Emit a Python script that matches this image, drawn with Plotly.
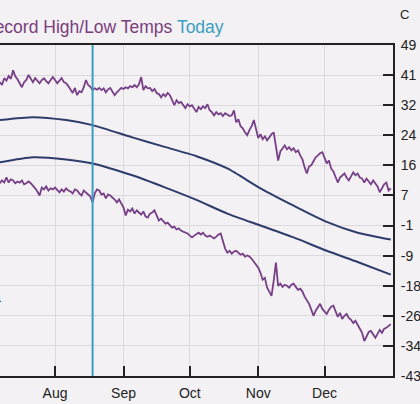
import plotly.graph_objects as go

# ---------------- data (degrees C, daily values; first Jul value is Jul 7) ----------------
YEAR = 2023
month_start_day = {7: 7, 8: 1, 9: 1, 10: 1, 11: 1, 12: 1}

rec_high_jul = [38.6, 37.8, 39.7, 39.0, 40.3, 39.5, 41.9, 40.2, 39.4, 38.3, 37.2, 38.6, 39.2, 40.6, 39.4,
                38.6, 39.7, 39.0, 38.3, 39.2, 39.7, 38.9, 38.3, 39.2, 40.0]
rec_high_aug = [39.2, 38.3, 39.0, 39.7, 38.6, 38.3, 37.5, 36.7, 35.6, 37.0, 35.0, 36.1, 35.8, 37.2, 39.2,
                37.8, 37.3, 36.4, 36.9, 36.5, 37.0, 36.4, 36.9, 35.8, 36.6, 37.0, 36.1, 35.0, 35.8, 36.4, 37.0]
rec_high_sep = [36.7, 37.2, 36.9, 37.5, 37.2, 37.8, 37.2, 38.0, 40.0, 36.4, 37.5, 36.9, 37.0, 36.1, 36.7,
                35.6, 35.3, 34.4, 35.3, 34.7, 35.6, 35.0, 33.6, 32.2, 33.6, 32.8, 33.1, 32.2, 31.4, 32.5]
rec_high_oct = [31.9, 32.2, 31.1, 30.3, 31.7, 31.1, 31.9, 31.4, 32.5, 30.8, 30.3, 29.4, 30.3, 29.7, 30.0,
                29.2, 30.0, 29.7, 29.2, 29.4, 30.8, 27.5, 28.3, 26.4, 25.8, 24.7, 23.9, 25.3, 26.4, 28.1, 25.8]
rec_high_nov = [23.1, 24.2, 22.8, 23.6, 22.5, 23.3, 24.2, 24.7, 20.8, 16.9, 19.4, 20.3, 21.1, 20.0, 20.6,
                19.7, 20.3, 19.2, 19.7, 18.3, 17.2, 15.0, 13.3, 15.3, 15.6, 16.7, 17.8, 18.3, 18.9, 19.2]
rec_high_dec = [17.5, 16.1, 16.9, 14.7, 13.9, 12.5, 10.8, 12.2, 12.8, 13.3, 12.2, 11.4, 12.5, 13.6, 12.8,
                13.3, 12.2, 11.9, 10.8, 11.9, 11.1, 10.3, 11.4, 10.6, 9.7, 8.1, 9.4, 10.3, 10.8, 8.6, 9.2]

rec_low_jul = [10.6, 11.4, 10.8, 12.2, 10.8, 11.7, 11.4, 10.6, 11.1, 10.8, 11.4, 10.3, 10.6, 11.1, 10.6,
               10.0, 9.2, 8.3, 7.2, 9.4, 8.9, 9.7, 8.6, 9.2, 8.9]
rec_low_aug = [9.4, 8.6, 8.1, 8.9, 8.3, 9.2, 8.6, 8.3, 7.8, 8.9, 8.6, 7.8, 7.2, 8.6, 8.1,
               7.5, 6.9, 5.3, 7.8, 8.9, 8.6, 7.5, 7.8, 6.4, 7.5, 7.2, 6.7, 6.1, 5.3, 6.1, 5.0]
rec_low_sep = [3.9, 1.7, 3.3, 2.8, 3.6, 2.2, 3.1, 2.5, 1.9, 2.8, 1.4, 1.1, 2.2, 2.5, 3.1,
               1.7, 0.3, 0.8, 0.0, -0.6, -0.3, -1.1, -1.7, -1.4, -2.2, -1.9, -2.5, -2.8, -3.1, -3.3]
rec_low_oct = [-3.9, -4.4, -3.9, -3.6, -3.1, -3.6, -3.1, -3.9, -4.2, -3.9, -4.4, -4.7, -4.2, -3.6, -3.3,
               -5.8, -7.5, -8.6, -8.1, -8.9, -8.3, -8.1, -8.6, -9.2, -8.9, -9.7, -9.4, -9.7, -10.3, -11.1, -11.7]
rec_low_nov = [-12.8, -14.2, -16.1, -15.6, -18.3, -19.4, -20.6, -16.4, -11.4, -17.8, -17.2, -18.1, -17.5, -17.8, -18.3,
               -17.5, -17.2, -18.1, -18.9, -18.6, -19.4, -20.8, -21.9, -22.8, -24.4, -26.1, -24.7, -23.9, -22.8, -24.2]
rec_low_dec = [-25.0, -25.6, -24.4, -23.6, -23.3, -24.7, -26.4, -25.3, -27.0, -26.1, -25.6, -26.7, -27.2, -28.1, -27.5,
               -28.6, -29.7, -30.8, -33.1, -31.7, -30.6, -30.3, -31.4, -32.2, -31.1, -30.0, -30.8, -29.7, -29.4, -28.9, -28.4]

normal_dates = ["2023-07-07", "2023-07-22", "2023-08-06", "2023-08-18", "2023-09-05", "2023-09-20", "2023-10-04",
                "2023-10-18", "2023-11-02", "2023-11-17", "2023-12-02", "2023-12-16", "2023-12-31"]
normal_high = [28.1, 28.9, 28.1, 26.7, 23.3, 20.6, 18.1, 14.7, 9.2, 4.4, -0.1, -3.1, -5.0]
normal_low = [16.4, 17.8, 17.2, 16.1, 12.8, 9.4, 6.0, 2.2, -1.1, -4.4, -8.1, -11.2, -14.7]

TODAY = "2023-08-18"
month_ticks = ["2023-08-01", "2023-09-01", "2023-10-01", "2023-11-01", "2023-12-01"]
month_labels = ["Aug", "Sep", "Oct", "Nov", "Dec"]
tick_f = [120, 105, 90, 75, 60, 45, 30, 15, 0, -15, -30, -45]
tick_labels = ["49", "41", "32", "24", "16", "7", "-1", "-9", "-18", "-26", "-34", "-43"]
X_RANGE = ["2023-07-07 02:00", "2024-01-01"]
TITLE = "Record High/Low Temps <span style='color:#3a9fc2'>Today</span>"
UNIT = "C"


def month_series(months):
    xs, ys = [], []
    for m, vals in months:
        d0 = month_start_day[m]
        for i, v in enumerate(vals):
            xs.append(f"{YEAR}-{m:02d}-{d0 + i:02d}")
            ys.append(v)
    return xs, ys


rh_x, rh_y = month_series([(7, rec_high_jul), (8, rec_high_aug), (9, rec_high_sep),
                           (10, rec_high_oct), (11, rec_high_nov), (12, rec_high_dec)])
rl_x, rl_y = month_series([(7, rec_low_jul), (8, rec_low_aug), (9, rec_low_sep),
                           (10, rec_low_oct), (11, rec_low_nov), (12, rec_low_dec)])

# ---------------- styles / positions ----------------
PURPLE = "#773f88"
NAVY = "#2e3c6c"
CYAN = "#3a9fc2"
BG = "#f3f1f3"
INK = "#222222"
FONT = "Liberation Sans, Arial, sans-serif"
PW, PH = 393.0, 331.0   # plot area size in px

tick_c = [(f - 32) * 5 / 9 for f in tick_f]

fig = go.Figure()
fig.add_trace(go.Scatter(x=rh_x, y=rh_y, mode="lines",
                         line=dict(color=PURPLE, width=1.8), hoverinfo="skip"))
fig.add_trace(go.Scatter(x=normal_dates, y=normal_high, mode="lines",
                         line=dict(color=NAVY, width=2, shape="spline", smoothing=0.6), hoverinfo="skip"))
fig.add_trace(go.Scatter(x=normal_dates, y=normal_low, mode="lines",
                         line=dict(color=NAVY, width=2, shape="spline", smoothing=0.6), hoverinfo="skip"))
fig.add_trace(go.Scatter(x=rl_x, y=rl_y, mode="lines",
                         line=dict(color=PURPLE, width=1.8), hoverinfo="skip"))

fig.add_shape(type="line", xref="x", yref="paper", x0=TODAY, x1=TODAY, y0=0, y1=1,
              line=dict(color=CYAN, width=2))

axis_common = dict(ticks="inside", ticklen=10, tickwidth=2, tickcolor=INK,
                   showline=True, linecolor=INK, linewidth=2, mirror=True,
                   showgrid=True, gridcolor="#dcd9dc", gridwidth=1, zeroline=False,
                   automargin=False, ticklabelstandoff=3,
                   tickfont=dict(size=14, color=INK, family=FONT))

fig.update_layout(
    template="none",
    width=420, height=404,
    margin=dict(l=0, r=27, t=45, b=28, pad=0),
    paper_bgcolor=BG, plot_bgcolor=BG,
    showlegend=False,
    font=dict(family=FONT, color=INK, size=14),
    xaxis=dict(type="date", range=X_RANGE, tickvals=month_ticks, ticktext=month_labels, **axis_common),
    yaxis=dict(side="right", range=[tick_c[-1], tick_c[0]], tickvals=tick_c, ticktext=tick_labels,
               **axis_common),
    annotations=[
        dict(text=TITLE, xref="paper", yref="paper", x=-20/PW, y=1 + 18/PH,
             xanchor="left", yanchor="middle", showarrow=False,
             font=dict(size=17.5, color="#7a3d7e", family=FONT)),
        dict(text=UNIT, xref="paper", yref="paper", x=404/PW, y=1 + 31/PH,
             xanchor="center", yanchor="middle", showarrow=False,
             font=dict(size=13, color=INK, family=FONT)),
        dict(text="Jul", xref="paper", yref="paper", x=2/PW, y=-18/PH,
             xanchor="right", yanchor="middle", showarrow=False,
             font=dict(size=14, color=INK, family=FONT)),
        dict(text="a", xref="paper", yref="paper", x=3/PW, y=1 - 252/PH,
             xanchor="right", yanchor="middle", showarrow=False,
             font=dict(size=14, color=INK, family=FONT)),
    ],
)

fig.write_html("out.html", config={"displayModeBar": False},
               post_script="document.body.style.margin='0';document.body.style.overflow='hidden';")
